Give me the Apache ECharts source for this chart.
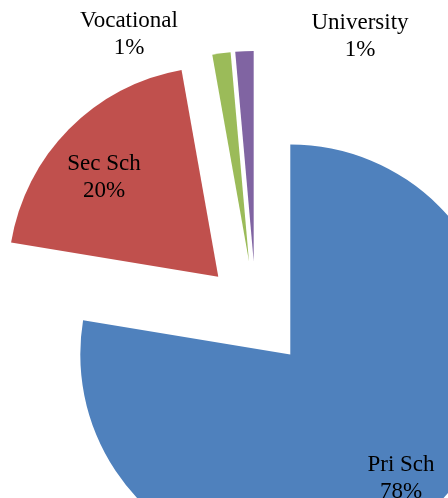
<!DOCTYPE html>
<html>
<head>
<meta charset="utf-8">
<script src="https://cdn.jsdelivr.net/npm/echarts@6/dist/echarts.min.js"></script>
<style>html,body{margin:0;padding:0;background:#fff}#c{width:448px;height:498px}</style>
</head>
<body>
<div id="c"></div>
<script>
const categories = ['Pri Sch', 'Sec Sch', 'Vocational', 'University'];
const values = [77.6, 19.6, 1.4, 1.4];
const colors = ['#4F81BD', '#C0504D', '#9BBB59', '#8064A2'];
// label centres (px)
const labelPos = [[401, 478], [104, 177], [129, 34], [360, 36]];

const total = values.reduce((a, b) => a + b, 0);
const chart = echarts.init(document.getElementById('c'), null, {renderer: 'canvas'});
chart.setOption({
  animation: false,
  backgroundColor: '#ffffff',
  title: categories.map((n, i) => ({
    text: n + '\n' + Math.round(values[i] / total * 100) + '%',
    left: labelPos[i][0],
    top: labelPos[i][1],
    textAlign: 'center',
    textVerticalAlign: 'middle',
    padding: 0,
    textStyle: {
      fontFamily: 'Liberation Serif',
      fontSize: 23,
      lineHeight: 27,
      fontWeight: 'normal',
      color: '#000',
      align: 'center'
    }
  })),
  series: [{
    type: 'pie',
    center: [256, 314],
    radius: 210,
    startAngle: 90,
    clockwise: true,
    selectedMode: 'multiple',
    selectedOffset: 53,
    label: {show: false},
    labelLine: {show: false},
    emphasis: {disabled: true},
    data: categories.map((n, i) => ({
      name: n, value: values[i], selected: true,
      itemStyle: {color: colors[i]}
    }))
  }]
});
</script>
</body>
</html>
